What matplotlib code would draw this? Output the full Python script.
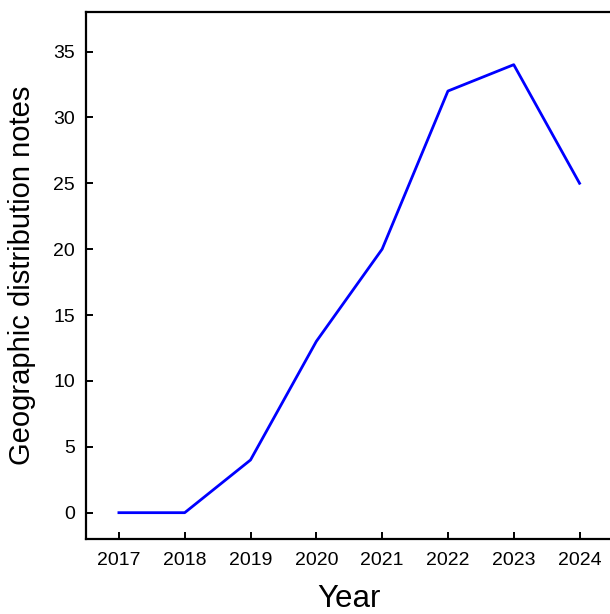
import matplotlib.pyplot as plt

# yearly counts of geographic distribution notes
years = [2017, 2018, 2019, 2020, 2021, 2022, 2023, 2024]
notes = [0, 0, 4, 13, 20, 32, 34, 25]
yticks = [0, 5, 10, 15, 20, 25, 30, 35]

plt.rcParams['font.family'] = ['Liberation Sans', 'DejaVu Sans']

fig = plt.figure(figsize=(6.1, 6.14), dpi=100)
ax = fig.add_axes([0.141, 0.1221, 0.863, 0.8584])

ax.plot(years, notes, color='#0000ff', linewidth=2.0)

ax.set_xlim(2016.5, 2024.5)
ax.set_ylim(-2, 38)
ax.set_xticks(years)
ax.set_yticks(yticks)

for s in ax.spines.values():
    s.set_linewidth(1.6)
ax.tick_params(direction='in', length=5, width=1.4, labelsize=14)
ax.tick_params(axis='x', pad=9)
ax.tick_params(axis='y', pad=8)

ax.set_xlabel('Year', fontsize=22.5, labelpad=11)
ax.set_ylabel('Geographic distribution notes', fontsize=21, labelpad=12)

fig.savefig('out.png', dpi=100)
